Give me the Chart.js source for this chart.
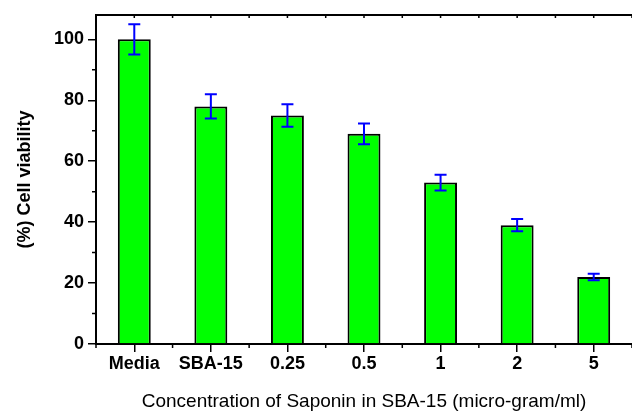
<!DOCTYPE html>
<html>
<head>
<meta charset="utf-8">
<script src="https://cdn.jsdelivr.net/npm/chart.js@4"></script>
<style>
  html, body { margin: 0; padding: 0; background: #fff; }
  #wrap { width: 632px; height: 413px; }
</style>
</head>
<body>
<div id="wrap"><canvas id="ViabilityChart" width="632" height="413"></canvas></div>
<script>
// 데이터
var categories = ['Media', 'SBA-15', '0.25', '0.5', '1', '2', '5'];
var viability = [100, 78, 75, 69, 53, 39, 22];
var errors = [5, 4, 3.7, 3.4, 2.6, 2, 1.1];
var yTicks = [0, 20, 40, 60, 80, 100];

var FONT = '"Liberation Sans", Arial, sans-serif';

// error bar + frame plugin
var extras = {
  id: 'extras',
  afterDatasetsDraw: function(chart) {
    var ctx = chart.ctx;
    var x = chart.scales.x, y = chart.scales.y;
    ctx.save();
    ctx.strokeStyle = '#0000ff';
    ctx.lineWidth = 2;
    for (var i = 0; i < viability.length; i++) {
      var px = x.getPixelForValue(i);
      var hi = y.getPixelForValue(viability[i] + errors[i]);
      var lo = y.getPixelForValue(viability[i] - errors[i]);
      ctx.beginPath();
      ctx.moveTo(px, hi); ctx.lineTo(px, lo);
      ctx.moveTo(px - 6, hi); ctx.lineTo(px + 6, hi);
      ctx.moveTo(px - 6, lo); ctx.lineTo(px + 6, lo);
      ctx.stroke();
    }
    ctx.restore();
  },
  afterDraw: function(chart) {
    var ctx = chart.ctx;
    var a = chart.chartArea;
    var x = chart.scales.x, y = chart.scales.y;
    ctx.save();
    ctx.strokeStyle = '#000';
    ctx.lineWidth = 2;
    ctx.beginPath();
    ctx.moveTo(a.left - 1, a.top); ctx.lineTo(a.right, a.top);
    ctx.stroke();
    ctx.lineWidth = 1.5;
    ctx.beginPath();
    // minor ticks on y
    for (var v = 10; v < 108; v += 20) {
      var py = y.getPixelForValue(v);
      ctx.moveTo(a.left - 4, py); ctx.lineTo(a.left, py);
    }
    // minor ticks on x + top ticks
    for (var i = -0.5; i < categories.length; i += 0.5) {
      var px = x.getPixelForValue(i);
      if (i % 1 !== 0) {
        ctx.moveTo(px, a.bottom); ctx.lineTo(px, a.bottom + 4);
      }
      ctx.moveTo(px, a.top); ctx.lineTo(px, a.top + 3);
    }
    ctx.stroke();
    ctx.restore();
  }
};

var ctx = document.getElementById('ViabilityChart');
var ViabilityChart = new Chart(ctx, {
  type: 'bar',
  data: {
    labels: categories,
    datasets: [{
      data: viability,
      backgroundColor: '#00ff00',
      borderColor: '#000000',
      borderWidth: 2,
      categoryPercentage: 1,
      barPercentage: 0.43
    }]
  },
  options: {
    responsive: false,
    animation: false,
    layout: { padding: { top: 15, right: 0, left: 0, bottom: 0 } },
    plugins: { legend: { display: false }, tooltip: { enabled: false } },
    scales: {
      x: {
        grid: { drawOnChartArea: false, offset: false, tickLength: 8, color: '#000', lineWidth: 1.5 },
        border: { color: '#000', width: 2 },
        ticks: { color: '#000', font: { family: FONT, size: 18, weight: 'bold' }, padding: 1, maxRotation: 0 },
        title: {
          display: true,
          text: 'Concentration of Saponin in SBA-15 (micro-gram/ml)',
          color: '#000',
          font: { family: FONT, size: 19 },
          padding: { top: 8, bottom: 0 }
        },
        afterFit: function(s) { s.height = 69; }
      },
      y: {
        min: 0,
        max: 108,
        grid: { drawOnChartArea: false, tickLength: 8, color: '#000', lineWidth: 1.5 },
        border: { color: '#000', width: 2 },
        afterBuildTicks: function(s) { s.ticks = yTicks.map(function(v) { return { value: v }; }); },
        ticks: { color: '#000', font: { family: FONT, size: 18, weight: 'bold' }, padding: 4 },
        title: {
          display: true,
          text: '(%) Cell viability',
          color: '#000',
          font: { family: FONT, size: 18, weight: 'bold' },
          padding: { top: 14, bottom: 4 }
        },
        afterFit: function(s) { s.width = 96; }
      }
    }
  },
  plugins: [extras]
});
</script>
</body>
</html>
